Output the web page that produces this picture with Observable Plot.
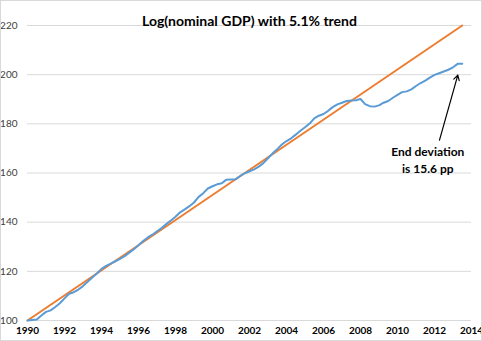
<!DOCTYPE html>
<html>
<head>
<meta charset="utf-8">
<script src="https://cdn.jsdelivr.net/npm/d3@7"></script>
<script src="https://cdn.jsdelivr.net/npm/@observablehq/plot@0.6"></script>
<style>
  html, body { margin: 0; padding: 0; background: #fff; }
  #wrap { position: relative; width: 482px; height: 341px; }
  #border { position: absolute; left: 0; top: 0; width: 480px; height: 339px; border: 1px solid #d9d9d9; pointer-events: none; }
</style>
</head>
<body>
<div id="wrap"><div id="chart"></div><div id="border"></div></div>
<script>
const title = "Log(nominal GDP) with 5.1% trend";
const annotation = ["End deviation", "is 15.6 pp"];

// Quarterly observations (decimal year) of log nominal GDP, 1990 = 100
const quarters = [
  1990.00,1990.25,1990.50,1990.75,1991.00,1991.25,1991.50,1991.75,
  1992.00,1992.25,1992.50,1992.75,1993.00,1993.25,1993.50,1993.75,
  1994.00,1994.25,1994.50,1994.75,1995.00,1995.25,1995.50,1995.75,
  1996.00,1996.25,1996.50,1996.75,1997.00,1997.25,1997.50,1997.75,
  1998.00,1998.25,1998.50,1998.75,1999.00,1999.25,1999.50,1999.75,
  2000.00,2000.25,2000.50,2000.75,2001.00,2001.25,2001.50,2001.75,
  2002.00,2002.25,2002.50,2002.75,2003.00,2003.25,2003.50,2003.75,
  2004.00,2004.25,2004.50,2004.75,2005.00,2005.25,2005.50,2005.75,
  2006.00,2006.25,2006.50,2006.75,2007.00,2007.25,2007.50,2007.75,
  2008.00,2008.25,2008.50,2008.75,2009.00,2009.25,2009.50,2009.75,
  2010.00,2010.25,2010.50,2010.75,2011.00,2011.25,2011.50,2011.75,
  2012.00,2012.25,2012.50,2012.75,2013.00,2013.25,2013.50
];
const logNGDP = [
  100.0,100.2,100.4,102.0,103.5,104.1,105.5,107.0,
  109.0,110.9,111.5,112.6,114.0,115.8,117.5,119.1,
  121.0,122.2,123.1,124.1,125.1,126.2,127.6,129.0,
  130.6,132.3,133.8,134.9,136.3,137.6,139.2,140.7,
  142.2,144.0,145.2,146.5,148.0,150.3,151.8,153.7,
  154.6,155.4,155.8,157.3,157.4,157.5,158.8,159.9,
  160.7,161.5,162.6,164.0,166.0,168.0,169.7,171.6,
  173.0,174.1,175.6,177.2,178.6,180.1,182.2,183.3,
  184.0,185.3,186.8,187.9,188.6,189.3,189.5,189.6,
  190.1,188.0,187.2,187.0,187.5,188.6,189.3,190.6,
  191.8,192.9,193.2,194.0,195.4,196.6,197.6,198.8,
  199.9,200.6,201.3,202.0,203.0,204.4,204.4
];
// 5.1% trend line (start and end points)
const trendYears = [1990.0, 2013.5];
const trendValues = [100.0, 220.0];

const xTicks = [1990,1992,1994,1996,1998,2000,2002,2004,2006,2008,2010,2012,2014];
const yTicks = [100,120,140,160,180,200,220];

const ngdp = quarters.map((q, i) => ({x: q, y: logNGDP[i]}));
const trend = trendYears.map((q, i) => ({x: q, y: trendValues[i]}));

const font = "Lato, 'Open Sans', sans-serif";

const chart = Plot.plot({
  width: 482,
  height: 341,
  marginLeft: 27,
  marginRight: 11,
  marginTop: 25,
  marginBottom: 21,
  style: {fontFamily: font, fontSize: "10px", background: "transparent"},
  x: {domain: [1990, 2014]},
  y: {domain: [100, 220]},
  marks: [
    Plot.gridY(yTicks, {stroke: "#d9d9d9", strokeOpacity: 1, strokeWidth: 1}),
    Plot.axisY(yTicks, {tickSize: 0, tickPadding: 10, fill: "#404040", fontSize: 10, label: null}),
    Plot.axisX(xTicks, {tickSize: 0, tickPadding: 6, tickFormat: d => String(d), fill: "#000", fontWeight: "bold", fontSize: 10, label: null}),
    Plot.line(trend, {x: "x", y: "y", stroke: "#ED7D31", strokeWidth: 2}),
    Plot.line(ngdp, {x: "x", y: "y", stroke: "#5B9BD5", strokeWidth: 2}),
    Plot.arrow([0], {x1: () => 2012.27, y1: () => 173.4, x2: () => 2013.26, y2: () => 199.8, stroke: "#000", strokeWidth: 1.2, headLength: 7}),
    Plot.text([annotation.join("\n")], {x: () => 2011.64, y: () => 165.6, text: d => d, fontWeight: "bold", fontSize: 12, fill: "#000", lineHeight: 1.35}),
    Plot.text([title], {frameAnchor: "top", dy: -9, text: d => d, fontWeight: "bold", fontSize: 14, fill: "#000"})
  ]
});
document.getElementById("chart").appendChild(chart);
</script>
</body>
</html>
